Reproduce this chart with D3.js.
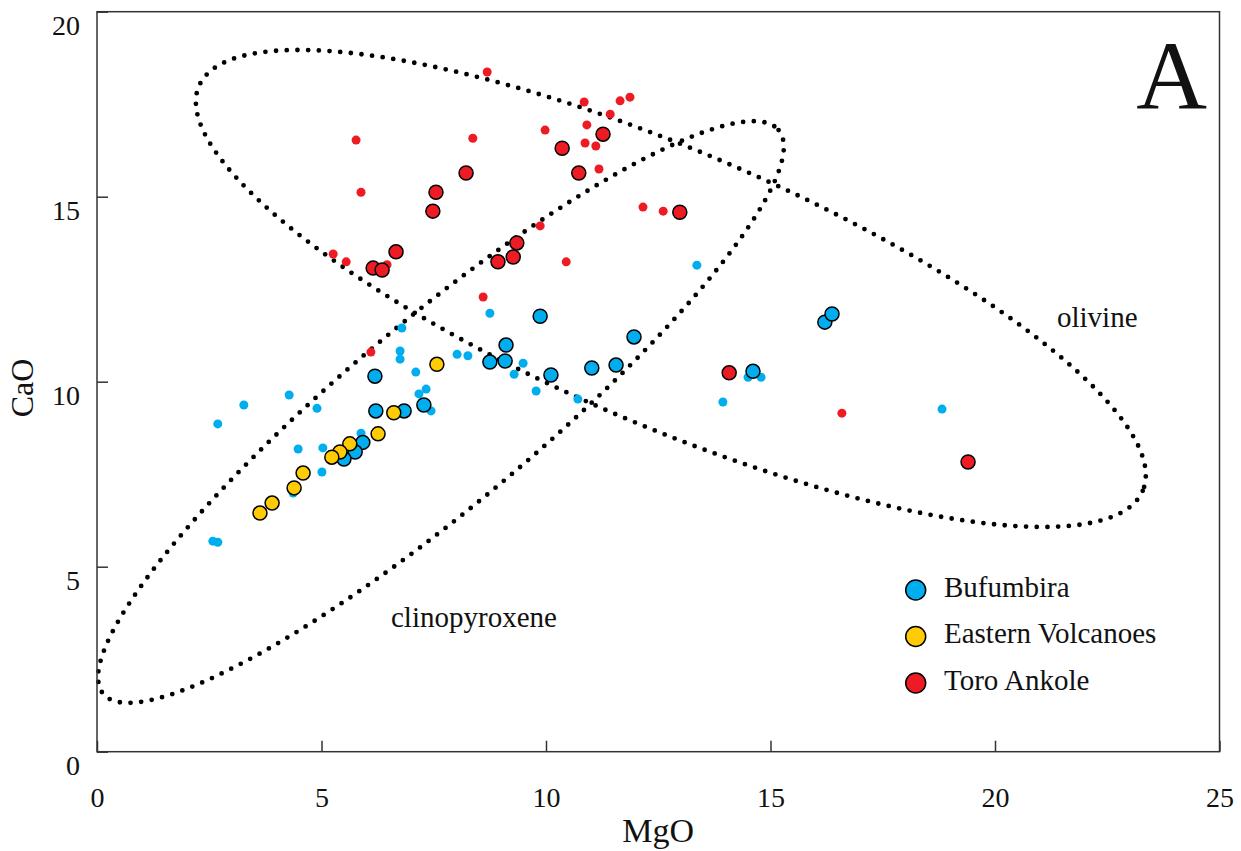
<!DOCTYPE html>
<html>
<head>
<meta charset="utf-8">
<script src="https://cdn.jsdelivr.net/npm/d3@7"></script>
<style>
  html, body { margin: 0; padding: 0; background: #fff; }
  svg { display: block; }
  text { font-family: "Liberation Serif", "Times New Roman", serif; fill: #111; }
</style>
</head>
<body>
<svg id="chart" width="1241" height="851"></svg>
<script>
// MgO / CaO (wt%) pairs for each group
const bufumbiraLarge = [
  [9.87, 11.77], [9.11, 10.99], [8.75, 10.53], [9.09, 10.56], [10.11, 10.18],
  [11.02, 10.37], [11.56, 10.45], [11.96, 11.21], [16.21, 11.61], [16.37, 11.83],
  [14.61, 10.28], [6.19, 10.15], [6.21, 9.21], [6.84, 9.21], [7.28, 9.37],
  [5.92, 8.36], [5.75, 8.10], [5.50, 7.91]
];
const bufumbiraSmall = [
  [6.79, 11.45], [6.75, 10.83], [6.75, 10.61], [7.10, 10.26], [8.02, 10.74],
  [8.26, 10.70], [7.33, 9.80], [7.17, 9.67], [7.44, 9.21], [5.88, 8.61],
  [5.03, 8.21], [4.48, 8.18], [4.90, 9.28], [4.28, 9.64], [3.27, 9.37],
  [2.69, 8.86], [5.01, 7.56], [4.37, 6.99], [2.58, 5.69], [2.69, 5.66],
  [8.75, 11.85], [9.49, 10.50], [9.29, 10.20], [9.78, 9.75], [10.71, 9.53],
  [13.36, 13.15], [13.94, 9.45], [14.50, 10.12], [14.79, 10.12], [18.82, 9.26]
];
const easternLarge = [
  [7.57, 10.47], [6.61, 9.16], [6.26, 8.59], [5.63, 8.32], [5.41, 8.10],
  [5.23, 7.96], [4.59, 7.53], [4.39, 7.13], [3.90, 6.72], [3.63, 6.45]
];
const toroLarge = [
  [6.15, 13.07], [6.35, 13.02], [6.66, 13.51], [7.48, 14.61], [7.55, 15.12],
  [8.22, 15.64], [8.93, 13.24], [9.27, 13.37], [9.35, 13.75], [10.36, 16.31],
  [10.73, 15.64], [11.27, 16.69], [12.98, 14.58], [14.08, 10.24], [19.40, 7.83]
];
const toroSmall = [
  [8.69, 18.37], [5.77, 16.53], [5.88, 15.12], [8.37, 16.58], [9.98, 16.80],
  [10.85, 17.56], [11.65, 17.59], [11.87, 17.69], [11.43, 17.23], [10.91, 16.94],
  [10.87, 16.45], [11.11, 16.37], [11.18, 15.75], [12.16, 14.72], [12.61, 14.61],
  [5.26, 13.45], [5.55, 13.24], [6.46, 13.16], [9.87, 14.21], [10.45, 13.24],
  [8.60, 12.29], [6.10, 10.80], [16.59, 9.15]
];

// Mineral fields: centre and two conjugate semi-axis vectors (MgO, CaO units)
const cpxField = { centre: [7.66, 9.18], axisA: [7.52, 7.62], axisB: [1.33, -1.93] };
const olivineField = { centre: [12.78, 12.52], axisA: [10.51, -5.47], axisB: [-1.205, -3.41] };

const xTicks = [0, 5, 10, 15, 20, 25];
const yTicks = [0, 5, 10, 15, 20];

const legendNames = ["Bufumbira", "Eastern Volcanoes", "Toro Ankole"];
const colors = { bufumbira: "#00AEEF", eastern: "#FFCB05", toro: "#ED1C24" };

const svg = d3.select("#chart");
const x = d3.scaleLinear().domain([0, 25]).range([97, 1219.5]);
const y = d3.scaleLinear().domain([0, 20]).range([751.7, 11.7]);

// Field outlines, drawn as round dots
function fieldPoints(f) {
  return d3.range(0, 361, 1).map(deg => {
    const t = deg * Math.PI / 180;
    return [
      f.centre[0] + f.axisA[0] * Math.cos(t) + f.axisB[0] * Math.sin(t),
      f.centre[1] + f.axisA[1] * Math.cos(t) + f.axisB[1] * Math.sin(t)
    ];
  });
}
const fieldLine = d3.line().x(d => x(d[0])).y(d => y(d[1])).curve(d3.curveLinearClosed);
[cpxField, olivineField].forEach(f => {
  svg.append("path")
    .attr("d", fieldLine(fieldPoints(f)))
    .attr("fill", "none")
    .attr("stroke", "#000")
    .attr("stroke-width", 4.8)
    .attr("stroke-linecap", "round")
    .attr("stroke-dasharray", "0 10.7");
});

// Small symbols
function smallDots(data, color) {
  svg.append("g").selectAll("circle").data(data).join("circle")
    .attr("cx", d => x(d[0])).attr("cy", d => y(d[1]))
    .attr("r", 4.5).attr("fill", color);
}
smallDots(bufumbiraSmall, colors.bufumbira);
smallDots(toroSmall, colors.toro);

// Large outlined symbols
function largeDots(data, color) {
  svg.append("g").selectAll("circle").data(data).join("circle")
    .attr("cx", d => x(d[0])).attr("cy", d => y(d[1]))
    .attr("r", 7).attr("fill", color)
    .attr("stroke", "#000").attr("stroke-width", 1.5);
}
largeDots(bufumbiraLarge, colors.bufumbira);
largeDots(easternLarge, colors.eastern);
largeDots(toroLarge, colors.toro);

// Axes (ticks point inward)
const xAxis = svg.append("g")
  .attr("transform", `translate(0,${y(0)})`)
  .call(d3.axisBottom(x).tickValues(xTicks).tickSizeInner(-11).tickSizeOuter(0).tickPadding(35).tickFormat(d3.format("d")));
const yAxis = svg.append("g")
  .attr("transform", `translate(${x(0)},0)`)
  .call(d3.axisLeft(y).tickValues(yTicks).tickSizeInner(-11).tickSizeOuter(0).tickPadding(17).tickFormat(d3.format("d")));
[xAxis, yAxis].forEach(g => {
  g.select(".domain").remove();
  g.selectAll(".tick line").attr("stroke", "#333").attr("stroke-width", 1.5);
  g.selectAll(".tick text").attr("font-size", 28).attr("font-family", "Liberation Serif, Times New Roman, serif").attr("fill", "#111");
});
yAxis.selectAll(".tick text").attr("dy", "0.83em");

// Frame
svg.append("rect")
  .attr("x", x(0)).attr("y", y(20))
  .attr("width", x(25) - x(0)).attr("height", y(0) - y(20))
  .attr("fill", "none").attr("stroke", "#333").attr("stroke-width", 1.5);

// Axis titles
svg.append("text").attr("x", (x(0) + x(25)) / 2).attr("y", 841.7)
  .attr("text-anchor", "middle").attr("font-size", 34).text("MgO");
svg.append("text").attr("transform", "translate(33,388) rotate(-90)")
  .attr("text-anchor", "middle").attr("font-size", 32).text("CaO");

// Panel letter and field names
svg.append("text").attr("x", 1207).attr("y", 108).attr("text-anchor", "end")
  .attr("font-size", 98).text("A");
svg.append("text").attr("x", 1057).attr("y", 327).attr("font-size", 29).text("olivine");
svg.append("text").attr("x", 391).attr("y", 627).attr("font-size", 29).text("clinopyroxene");

// Legend
const legendColors = [colors.bufumbira, colors.eastern, colors.toro];
const legend = svg.append("g").selectAll("g").data(legendNames).join("g")
  .attr("transform", (d, i) => `translate(915.7,${590 + i * 46.5})`);
legend.append("circle").attr("r", 10)
  .attr("fill", (d, i) => legendColors[i]).attr("stroke", "#000").attr("stroke-width", 1.5);
legend.append("text").attr("x", 28.3).attr("y", 6.7).attr("font-size", 29).text(d => d);
</script>
</body>
</html>
